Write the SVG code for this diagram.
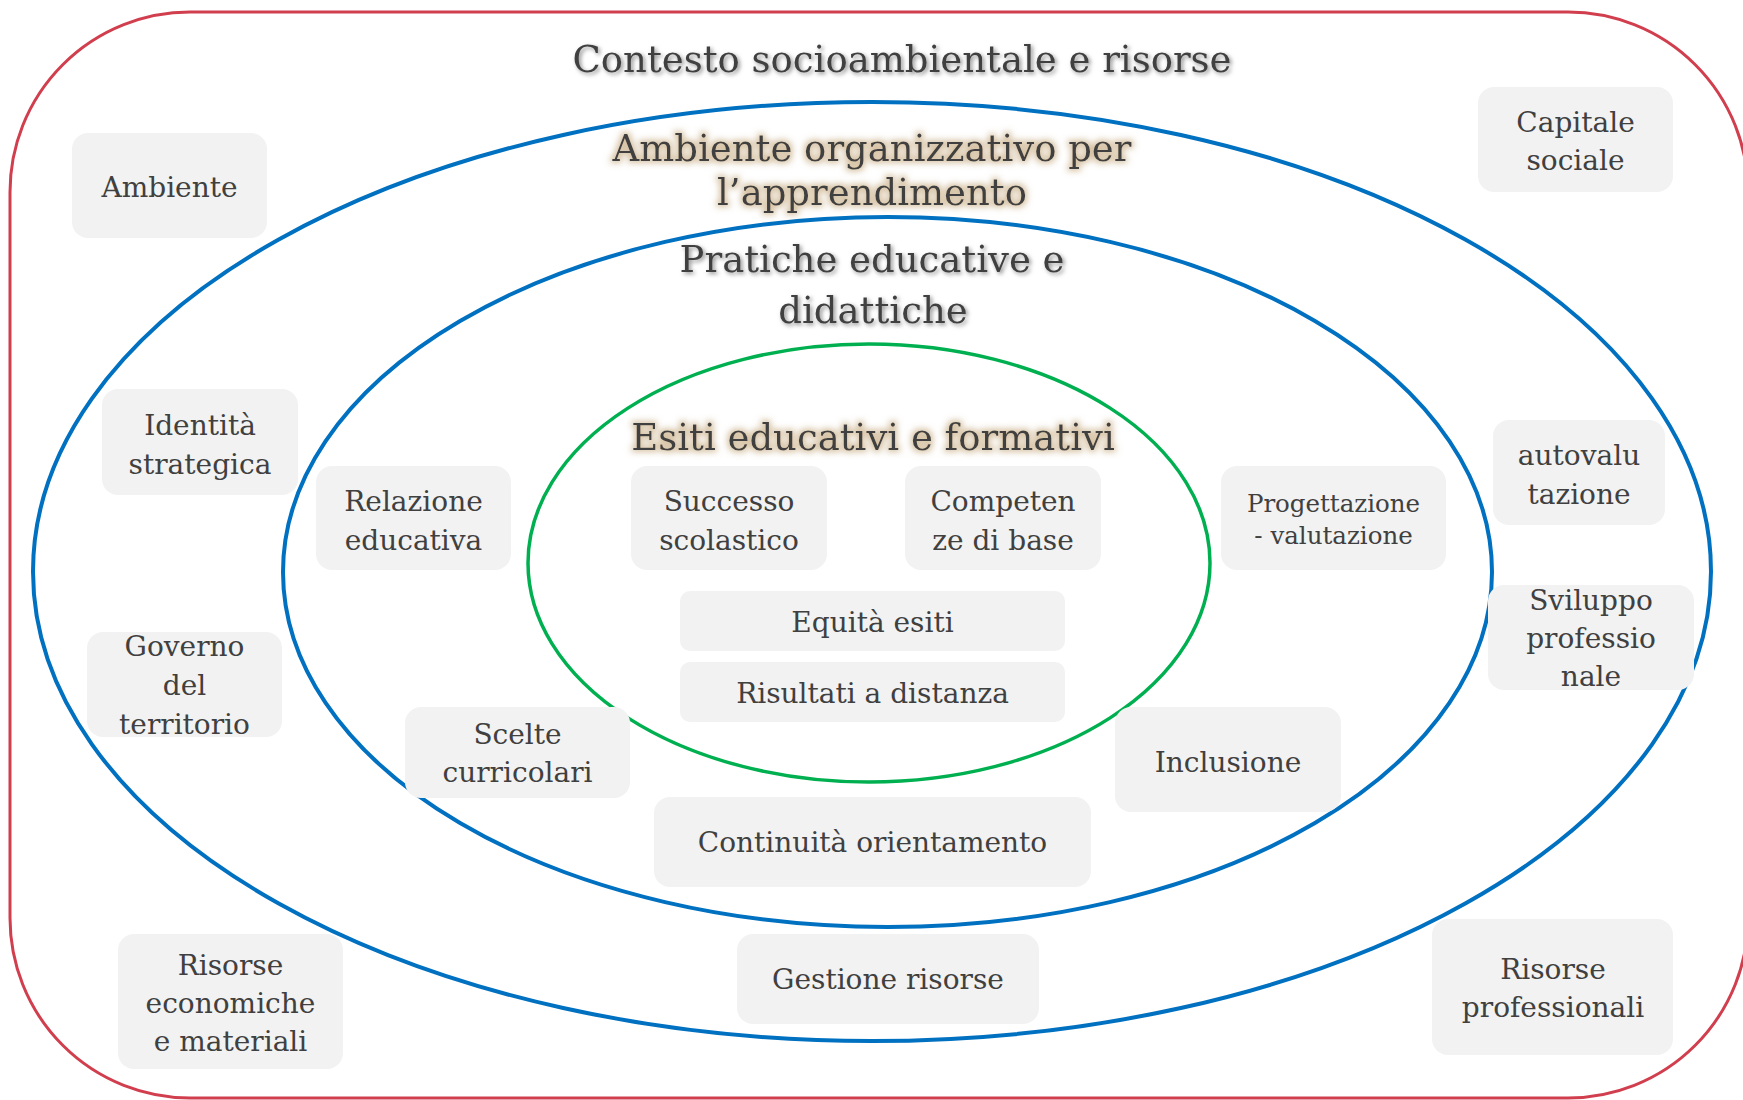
<svg xmlns="http://www.w3.org/2000/svg" width="1743" height="1100" viewBox="0 0 1743 1100">
<defs>
<style>
.box{fill:#F2F2F2;}
.t{font-family:"DejaVu Serif","Liberation Serif",serif;font-size:28px;fill:#404040;text-anchor:middle;}
.ts{font-size:24.5px;}
.h{font-family:"DejaVu Serif","Liberation Serif",serif;font-size:37px;fill:#404040;text-anchor:middle;}
.ell{fill:none;stroke:#0070C0;stroke-width:4;}
</style>
<filter id="shadow" x="-10%" y="-40%" width="120%" height="180%">
<feGaussianBlur in="SourceAlpha" stdDeviation="2"/>
<feOffset dx="1.5" dy="2" result="b"/>
<feFlood flood-color="#7F7F7F" flood-opacity="0.9"/>
<feComposite in2="b" operator="in" result="s"/>
<feMerge><feMergeNode in="s"/><feMergeNode in="SourceGraphic"/></feMerge>
</filter>
<filter id="glow" x="-10%" y="-40%" width="120%" height="180%">
<feMorphology in="SourceAlpha" operator="dilate" radius="2"/>
<feGaussianBlur stdDeviation="3" result="b"/>
<feFlood flood-color="#C9AE86" flood-opacity="0.75"/>
<feComposite in2="b" operator="in" result="s"/>
<feMerge><feMergeNode in="s"/><feMergeNode in="SourceGraphic"/></feMerge>
</filter>
</defs>
<rect width="1743" height="1100" fill="#FFFFFF"/>
<g id="frames">
<rect x="10" y="12" width="1738" height="1086" rx="180" ry="180" fill="none" stroke="#D13F4E" stroke-width="3"/>
<ellipse class="ell" cx="872" cy="571.5" rx="839" ry="469.5"/>
<ellipse class="ell" cx="887.5" cy="572" rx="604.5" ry="355"/>
<ellipse cx="869" cy="563" rx="341" ry="219" fill="none" stroke="#00B050" stroke-width="3.5"/>
</g>
<g id="connectors"></g>
<g id="titles">
<text class="h" x="902" y="72" filter="url(#shadow)">Contesto socioambientale e risorse</text>
<text class="h" x="872" y="161" filter="url(#glow)">Ambiente organizzativo per</text>
<text class="h" x="872" y="205" filter="url(#glow)">l’apprendimento</text>
<text class="h" x="872" y="272" filter="url(#shadow)">Pratiche educative e</text>
<text class="h" x="873" y="323" filter="url(#shadow)">didattiche</text>
<text class="h" x="873" y="450" filter="url(#glow)">Esiti educativi e formativi</text>
</g>
<g id="n-ambiente"><rect class="box" x="72" y="133" width="195" height="105" rx="16"/><text class="t" x="169.5" y="197">Ambiente</text></g>
<g id="n-identita"><rect class="box" x="102" y="389" width="196" height="106" rx="16"/><text class="t" x="200" y="435">Identità</text><text class="t" x="200" y="474">strategica</text></g>
<g id="n-relazione"><rect class="box" x="316" y="466" width="195" height="104" rx="16"/><text class="t" x="413.5" y="511">Relazione</text><text class="t" x="413.5" y="550">educativa</text></g>
<g id="n-successo"><rect class="box" x="631" y="466" width="196" height="104" rx="16"/><text class="t" x="729" y="511">Successo</text><text class="t" x="729" y="550">scolastico</text></g>
<g id="n-competenze"><rect class="box" x="905" y="466" width="196" height="104" rx="16"/><text class="t" x="1003" y="511">Competen</text><text class="t" x="1003" y="550">ze di base</text></g>
<g id="n-progettazione"><rect class="box" x="1221" y="466" width="225" height="104" rx="16"/><text class="t ts" x="1333.5" y="512">Progettazione</text><text class="t ts" x="1333.5" y="544">- valutazione</text></g>
<g id="n-autovalutazione"><rect class="box" x="1493" y="420" width="172" height="105" rx="16"/><text class="t" x="1579" y="465">autovalu</text><text class="t" x="1579" y="504">tazione</text></g>
<g id="n-capitale"><rect class="box" x="1478" y="87" width="195" height="105" rx="16"/><text class="t" x="1575.5" y="132">Capitale</text><text class="t" x="1575.5" y="170">sociale</text></g>
<g id="n-governo"><rect class="box" x="87" y="632" width="195" height="105" rx="16"/><text class="t" x="184.5" y="656">Governo</text><text class="t" x="184.5" y="695">del</text><text class="t" x="184.5" y="734">territorio</text></g>
<g id="n-scelte"><rect class="box" x="405" y="707" width="225" height="91" rx="16"/><text class="t" x="517.5" y="744">Scelte</text><text class="t" x="517.5" y="782">curricolari</text></g>
<g id="n-equita"><rect class="box" x="680" y="591" width="385" height="60" rx="10"/><text class="t" x="872.5" y="632">Equità esiti</text></g>
<g id="n-risultati"><rect class="box" x="680" y="662" width="385" height="60" rx="10"/><text class="t" x="872.5" y="703">Risultati a distanza</text></g>
<g id="n-continuita"><rect class="box" x="654" y="797" width="437" height="90" rx="16"/><text class="t" x="872.5" y="852">Continuità orientamento</text></g>
<g id="n-inclusione"><rect class="box" x="1115" y="707" width="226" height="105" rx="16"/><text class="t" x="1228" y="772">Inclusione</text></g>
<g id="n-sviluppo"><rect class="box" x="1488" y="585" width="206" height="105" rx="16"/><text class="t" x="1591" y="610">Sviluppo</text><text class="t" x="1591" y="648">professio</text><text class="t" x="1591" y="686">nale</text></g>
<g id="n-gestione"><rect class="box" x="737" y="934" width="302" height="90" rx="16"/><text class="t" x="888" y="989">Gestione risorse</text></g>
<g id="n-risorse-econ"><rect class="box" x="118" y="934" width="225" height="135" rx="16"/><text class="t" x="230.5" y="975">Risorse</text><text class="t" x="230.5" y="1013">economiche</text><text class="t" x="230.5" y="1051">e materiali</text></g>
<g id="n-risorse-prof"><rect class="box" x="1432" y="919" width="241" height="136" rx="16"/><text class="t" x="1553" y="979">Risorse</text><text class="t" x="1553" y="1017">professionali</text></g>
</svg>
